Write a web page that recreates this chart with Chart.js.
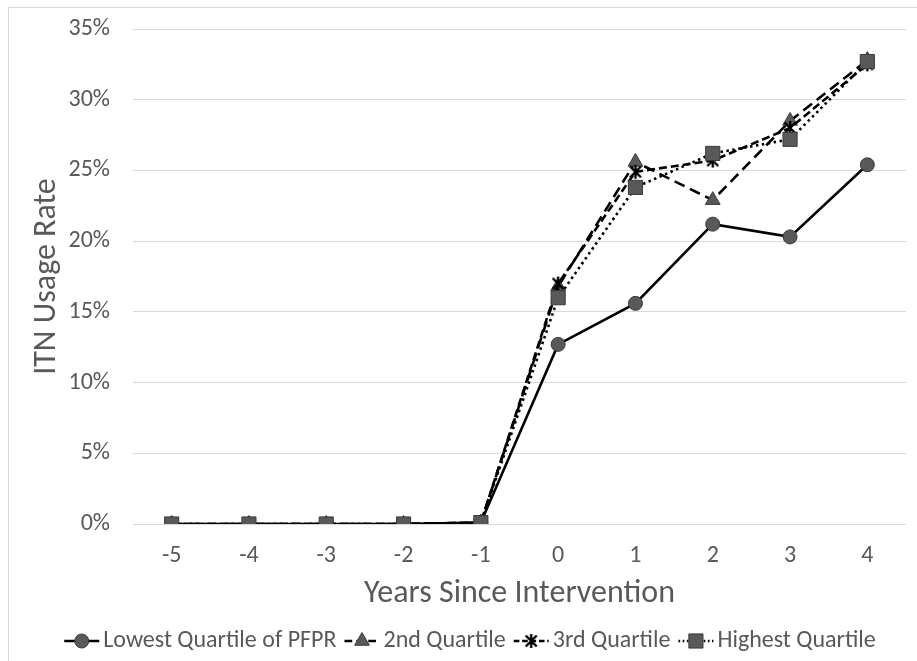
<!DOCTYPE html>
<html><head><meta charset="utf-8">
<script src="https://cdn.jsdelivr.net/npm/chart.js@4.4.1/dist/chart.umd.min.js"></script>
<style>
html,body{margin:0;padding:0;background:#fff;overflow:hidden}
#wrap{position:relative;width:917px;height:661px;overflow:hidden}
#frame{position:absolute;left:8px;top:7px;width:1000px;height:1000px;border:1px solid #d9d9d9;box-sizing:border-box}
canvas{position:absolute;left:0;top:0}
</style></head><body>
<div id="wrap"><div id="frame"></div><canvas id="c" width="917" height="661"></canvas></div>
<script>
const years = ['-5','-4','-3','-2','-1','0','1','2','3','4'];
const seriesNames = ['Lowest Quartile of PFPR','2nd Quartile','3rd Quartile','Highest Quartile'];
const lowestQuartile  = [0,0,0,0,0.1,12.7,15.6,21.2,20.3,25.4];
const secondQuartile  = [0,0,0,0,0.1,16.8,25.6,22.9,28.5,32.8];
const thirdQuartile   = [0,0,0,0,0.1,17.0,24.9,25.7,28.0,32.5];
const highestQuartile = [0,0,0,0,0.1,16.0,23.8,26.2,27.2,32.7];
const yTicks = [0,5,10,15,20,25,30,35];

const FONT = 'Carlito, Lato, sans-serif';
const TXT = '#595959';
const MFILL = '#595959';
const MEDGE = '#3a3a3a';

function makeStar(size){
  const c = document.createElement('canvas');
  c.width = size; c.height = size;
  const g = c.getContext('2d');
  g.strokeStyle = '#000'; g.lineWidth = 2.4; g.lineCap = 'butt';
  const p = 2.5, m = size/2;
  g.beginPath();
  g.moveTo(p,p); g.lineTo(size-p,size-p);
  g.moveTo(size-p,p); g.lineTo(p,size-p);
  g.moveTo(m,1); g.lineTo(m,size-1);
  g.stroke();
  return c;
}
const starImg = makeStar(16);

const styles = [
  {dash: [], point: 'circle', radius: 7},
  {dash: [11,6], point: 'triangle', radius: 8.5},
  {dash: [8,4], point: starImg, radius: 8},
  {dash: [2.5,3.5], point: 'rect', radius: 10}
];
const dataArr = [lowestQuartile, secondQuartile, thirdQuartile, highestQuartile];

const datasets = dataArr.map((d,i)=>({
  label: seriesNames[i],
  data: d,
  borderColor: '#000',
  borderWidth: 2.6,
  borderDash: styles[i].dash,
  backgroundColor: MFILL,
  pointBackgroundColor: MFILL,
  pointBorderColor: MEDGE,
  pointBorderWidth: 1,
  pointStyle: styles[i].point,
  pointRadius: styles[i].radius,
  pointHoverRadius: styles[i].radius,
  tension: 0,
  fill: false,
  order: 3 - i
}));

const legendPlugin = {
  id: 'customLegend',
  afterDraw(chart){
    const ctx = chart.ctx;
    ctx.save();
    ctx.font = '24px ' + FONT;
    ctx.textBaseline = 'middle';
    const y = 641;
    const segW = 35, gapT = 4, gapItem = 8;
    const widths = seriesNames.map(n => segW + gapT + ctx.measureText(n).width);
    const total = widths.reduce((a,b)=>a+b,0) + gapItem*(seriesNames.length-1);
    let x = 470 - total/2;
    seriesNames.forEach((n,i)=>{
      ctx.save();
      ctx.strokeStyle = '#000'; ctx.lineWidth = 2.6;
      ctx.setLineDash(styles[i].dash.map(v=>v*0.7));
      ctx.beginPath(); ctx.moveTo(x, y); ctx.lineTo(x+segW, y); ctx.stroke();
      ctx.setLineDash([]);
      ctx.fillStyle = MFILL; ctx.strokeStyle = MEDGE; ctx.lineWidth = 1;
      const r = styles[i].radius;
      Chart.helpers.drawPoint(ctx, {pointStyle: styles[i].point, radius: r, rotation: 0, borderWidth: 1}, x+segW/2, y);
      ctx.restore();
      ctx.fillStyle = TXT;
      ctx.fillText(n, x+segW+gapT, y);
      x += widths[i] + gapItem;
    });
    ctx.restore();
  }
};

new Chart(document.getElementById('c'), {
  type: 'line',
  data: {labels: years, datasets},
  plugins: [legendPlugin],
  options: {
    responsive: false,
    animation: false,
    devicePixelRatio: 1,
    layout: {padding: {left: 8, top: 29, right: 5, bottom: 45}},
    plugins: {legend: {display: false}, tooltip: {enabled: false}},
    scales: {
      x: {
        offset: true,
        grid: {display: false, drawTicks: false},
        border: {display: false},
        ticks: {color: TXT, font: {family: FONT, size: 24}, padding: 18, maxRotation: 0},
        title: {display: true, text: 'Years Since Intervention', color: TXT, font: {family: FONT, size: 32}, padding: {top: 0, bottom: 3}},
        afterFit(s){ s.height = 92; s.paddingLeft = 0; s.paddingRight = 0; }
      },
      y: {
        min: 0, max: 35,
        afterBuildTicks(s){ s.ticks = yTicks.map(v=>({value: v})); },
        grid: {color: '#d9d9d9', lineWidth: 1, drawTicks: false},
        border: {display: false},
        ticks: {color: TXT, font: {family: FONT, size: 24}, padding: 23, callback: v => v + '%'},
        title: {display: true, text: 'ITN Usage Rate', color: TXT, font: {family: FONT, size: 32}, padding: {top: 20, bottom: 0}},
        afterFit(s){ s.width = 125; s.paddingTop = 0; s.paddingBottom = 0; }
      }
    }
  }
});
</script>
</body></html>
